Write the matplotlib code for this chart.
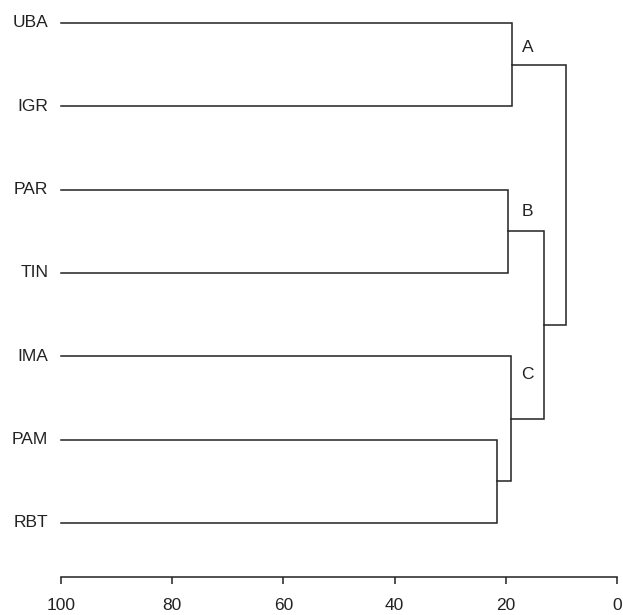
import matplotlib
matplotlib.use("Agg")
import matplotlib.pyplot as plt

plt.rcParams['font.family'] = ['Liberation Sans', 'DejaVu Sans']

# leaves, top to bottom
labels = ["UBA", "IGR", "PAR", "TIN", "IMA", "PAM", "RBT"]

# merges: (left child, right child, height); leaves are 0..6, new clusters 7, 8, ...
merges = [
    (0, 1, 18.8),   # 7  A
    (2, 3, 19.6),   # 8  B
    (5, 6, 21.6),   # 9
    (4, 9, 19.1),   # 10 C
    (8, 10, 13.2),  # 11
    (7, 11, 9.1),   # 12
]

# group letters and where they sit
group_names = ["A", "B", "C"]
group_x = [16.1, 16.1, 16.1]
group_y = [0.29, 2.26, 4.22]

ticks = [100, 80, 60, 40, 20, 0]

fig = plt.figure(figsize=(6.23, 6.15), dpi=100)
ax = fig.add_axes([61 / 623, 38 / 615, 556 / 623, 577 / 615])

pos_y = {i: float(i) for i in range(len(labels))}
pos_x = {i: 100.0 for i in range(len(labels))}
node = len(labels)
for a, b, h in merges:
    ax.plot([pos_x[a], h, h, pos_x[b]], [pos_y[a], pos_y[a], pos_y[b], pos_y[b]],
            color="#222222", lw=1.1, solid_joinstyle="miter", clip_on=False)
    pos_y[node] = (pos_y[a] + pos_y[b]) / 2
    pos_x[node] = h
    node += 1

for i, name in enumerate(labels):
    ax.text(102.3, i, name, ha="right", va="center", fontsize=12.5, color="#222222")

for name, gx, gy in zip(group_names, group_x, group_y):
    ax.text(gx, gy, name, ha="center", va="center", fontsize=12.5, color="#222222")

ax.set_xlim(100, 0)
ax.set_ylim(6.65, -0.276)
ax.set_yticks([])
for s in ["top", "right", "left"]:
    ax.spines[s].set_visible(False)
ax.spines["bottom"].set_bounds(0, 100)
ax.spines["bottom"].set_color("#222222")
ax.spines["bottom"].set_linewidth(1.1)
ax.set_xticks(ticks)
ax.set_xticklabels([str(t) for t in ticks])
ax.tick_params(axis="x", direction="out", length=5, width=1.1, pad=10,
               labelsize=12.5, colors="#222222")
ax.patch.set_visible(False)

fig.savefig("out.png", dpi=100)
